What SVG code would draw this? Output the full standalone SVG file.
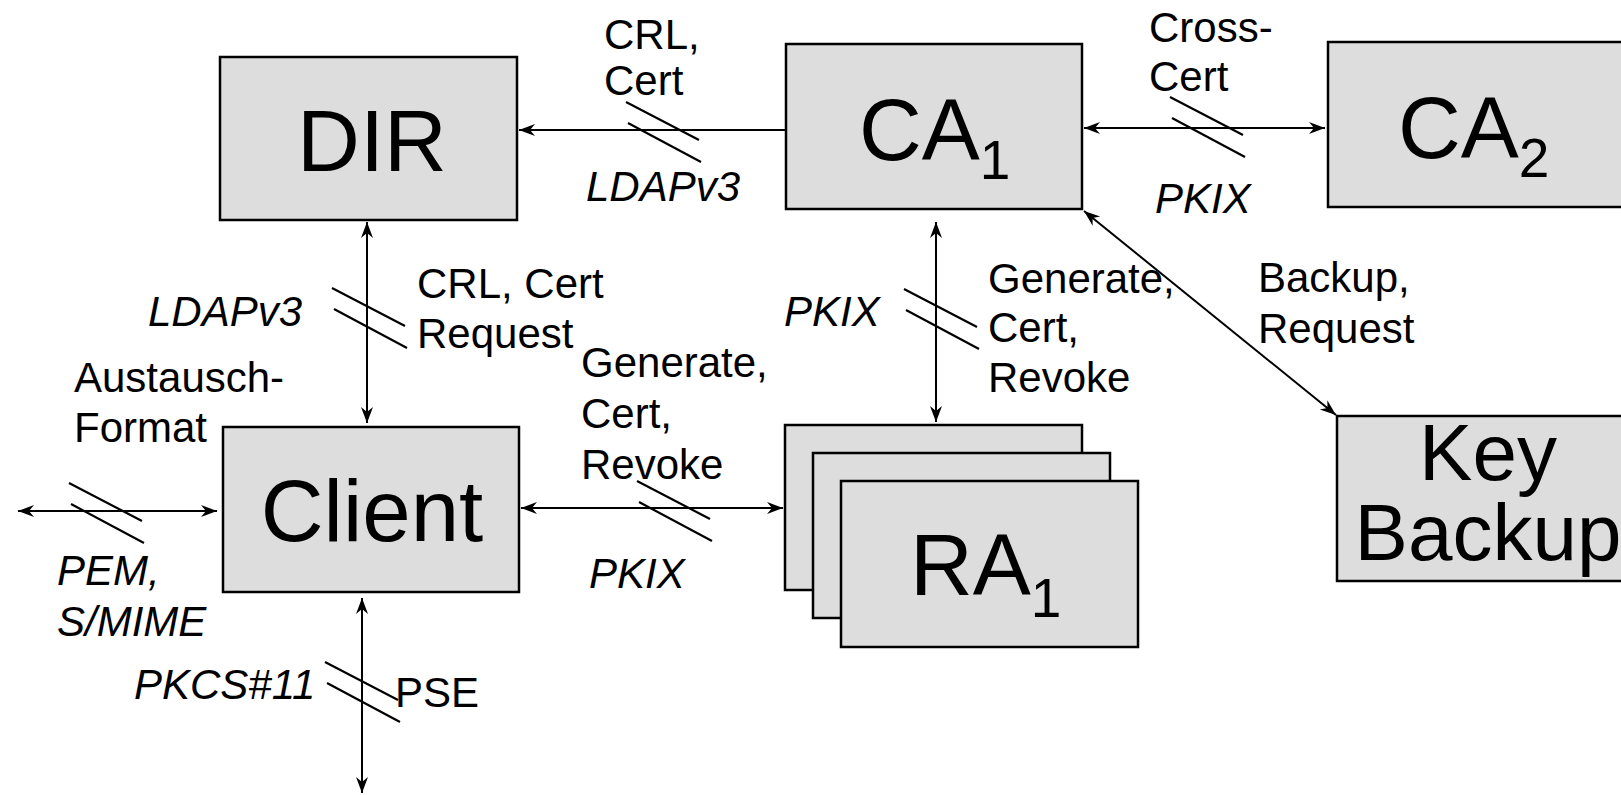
<svg xmlns="http://www.w3.org/2000/svg" xmlns:xlink="http://www.w3.org/1999/xlink" width="1621" height="795" viewBox="0 0 1621 795">
<style>
.box{fill:#dddddd;stroke:#000;stroke-width:2.5}
.big{font-family:"Liberation Sans",Arial,sans-serif;font-size:87px;fill:#000}
.kb{font-family:"Liberation Sans",Arial,sans-serif;font-size:80px;fill:#000}
.lbl{font-family:"Liberation Sans",Arial,sans-serif;font-size:42px;fill:#000}
.it{font-style:italic}
.con{stroke:#000;stroke-width:2;fill:none}
.sl{stroke:#000;stroke-width:2.2;fill:none}
</style>
<defs>
<marker id="ah" viewBox="-18 -8 20 16" refX="0" refY="0" markerWidth="20" markerHeight="16" markerUnits="userSpaceOnUse" orient="auto-start-reverse">
<path d="M0,0 L-16,-6 L-11,0 L-16,6 Z" fill="#000"/>
</marker>
<path id="slash" d="M-37,-30 L36,8 M-35,-9 L38,30"/>
</defs>
<rect width="1621" height="795" fill="#fff"/>
<g id="connectors">
<line class="con" x1="787" y1="130" x2="519" y2="130" marker-end="url(#ah)"/>
<line class="con" x1="1084" y1="128" x2="1325" y2="128" marker-start="url(#ah)" marker-end="url(#ah)"/>
<line class="con" x1="367" y1="222" x2="367" y2="423" marker-start="url(#ah)" marker-end="url(#ah)"/>
<line class="con" x1="936" y1="222" x2="936" y2="422" marker-start="url(#ah)" marker-end="url(#ah)"/>
<line class="con" x1="1084" y1="211" x2="1336" y2="415" marker-start="url(#ah)" marker-end="url(#ah)"/>
<line class="con" x1="521" y1="508" x2="783" y2="508" marker-start="url(#ah)" marker-end="url(#ah)"/>
<line class="con" x1="18" y1="511" x2="217" y2="511" marker-start="url(#ah)" marker-end="url(#ah)"/>
<line class="con" x1="362" y1="598" x2="362" y2="793" marker-start="url(#ah)" marker-end="url(#ah)"/>
<use href="#slash" class="sl" transform="translate(663,132)"/>
<use href="#slash" class="sl" transform="translate(1207,127)"/>
<use href="#slash" class="sl" transform="translate(369,318)"/>
<use href="#slash" class="sl" transform="translate(941,319)"/>
<use href="#slash" class="sl" transform="translate(674,511)"/>
<use href="#slash" class="sl" transform="translate(106,513)"/>
<use href="#slash" class="sl" transform="translate(362,692)"/>
<text class="lbl" x="604" y="49">CRL,</text>
<text class="lbl" x="604" y="95">Cert</text>
<text class="lbl it" x="586" y="201">LDAPv3</text>
<text class="lbl" x="1149" y="42">Cross-</text>
<text class="lbl" x="1149" y="91">Cert</text>
<text class="lbl it" x="1155" y="213">PKIX</text>
<text class="lbl it" x="148" y="326">LDAPv3</text>
<text class="lbl" x="417" y="298">CRL, Cert</text>
<text class="lbl" x="417" y="348">Request</text>
<text class="lbl" x="74" y="392">Austausch-</text>
<text class="lbl" x="74" y="442">Format</text>
<text class="lbl" x="581" y="377">Generate,</text>
<text class="lbl" x="581" y="428">Cert,</text>
<text class="lbl" x="581" y="479">Revoke</text>
<text class="lbl it" x="57" y="585">PEM,</text>
<text class="lbl it" x="57" y="636">S/MIME</text>
<text class="lbl it" x="589" y="588">PKIX</text>
<text class="lbl it" x="134" y="699">PKCS#11</text>
<text class="lbl" x="395" y="707">PSE</text>
<text class="lbl it" x="784" y="326">PKIX</text>
<text class="lbl" x="988" y="293">Generate,</text>
<text class="lbl" x="988" y="342">Cert,</text>
<text class="lbl" x="988" y="392">Revoke</text>
<text class="lbl" x="1258" y="292">Backup,</text>
<text class="lbl" x="1258" y="343">Request</text>
</g>
<g id="DIR">
<rect class="box" x="220" y="57" width="297" height="163"/>
<text class="big" x="372" y="171" text-anchor="middle">DIR</text>
</g>
<g id="CA1">
<rect class="box" x="786" y="44" width="296" height="165"/>
<text class="big" x="859" y="160">CA<tspan font-size="55" dy="19">1</tspan></text>
</g>
<g id="CA2">
<rect class="box" x="1328" y="42" width="296" height="165"/>
<text class="big" x="1398" y="158">CA<tspan font-size="55" dy="19">2</tspan></text>
</g>
<g id="Client">
<rect class="box" x="223" y="427" width="296" height="165"/>
<text class="big" x="372" y="541" text-anchor="middle">Client</text>
</g>
<g id="RA1">
<rect class="box" x="785" y="425" width="297" height="165"/>
<rect class="box" x="813" y="453" width="297" height="165"/>
<rect class="box" x="841" y="481" width="297" height="166"/>
<text class="big" x="910" y="595">RA<tspan font-size="55" dy="22">1</tspan></text>
</g>
<g id="KeyBackup">
<rect class="box" x="1337" y="416" width="297" height="165"/>
<text class="kb" x="1488" y="480" text-anchor="middle">Key</text>
<text class="kb" x="1488" y="560" text-anchor="middle">Backup</text>
</g>
</svg>
